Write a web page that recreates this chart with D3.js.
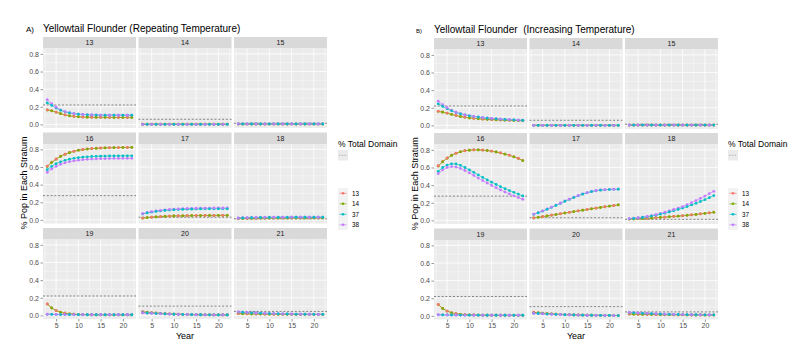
<!DOCTYPE html>
<html><head><meta charset="utf-8">
<script src="https://cdn.jsdelivr.net/npm/d3@7"></script>
<style>body{margin:0;background:#fff}svg{display:block;font-family:"Liberation Sans",Arial,sans-serif}</style>
</head><body><svg id="c" width="812" height="347"></svg>
<script>
// ---------- DATA ----------
const years = [3,4,5,6,7,8,9,10,11,12,13,14,15,16,17,18,19,20,21,22];
const facets = ["13","14","15","16","17","18","19","20","21"];
const seriesNames = ["13","14","37","38"];
const seriesColors = ["#F8766D","#7CAE00","#00BFC4","#C77CFF"];
const yTicks = [0,0.2,0.4,0.6,0.8];
const xTicks = [5,10,15,20];
const totalDomain = [0.22,0.058,0.013,0.275,0.03,0.012,0.22,0.105,0.045];

// Panel A (Repeating Temperature): each facet = [s13, s14, s37, s38]
const repA_13 = [
 [0.165,0.155,0.140,0.122,0.108,0.098,0.091,0.087,0.084,0.082,0.081,0.080,0.080,0.080,0.079,0.079,0.079,0.079,0.079,0.079],
 [0.163,0.154,0.139,0.121,0.107,0.097,0.090,0.086,0.083,0.081,0.080,0.079,0.079,0.079,0.078,0.078,0.078,0.078,0.078,0.078],
 [0.245,0.215,0.185,0.160,0.142,0.130,0.121,0.115,0.111,0.109,0.107,0.106,0.105,0.105,0.105,0.105,0.105,0.105,0.105,0.105],
 [0.280,0.235,0.195,0.165,0.145,0.132,0.123,0.117,0.113,0.110,0.108,0.107,0.106,0.106,0.105,0.105,0.105,0.105,0.105,0.105]];
const repA_14 = [
 [0.002,0.002,0.002,0.002,0.002,0.002,0.002,0.002,0.002,0.002,0.002,0.002,0.002,0.002,0.002,0.002,0.002,0.002,0.002,0.002],
 [0.002,0.002,0.002,0.002,0.002,0.002,0.002,0.002,0.002,0.002,0.002,0.002,0.002,0.002,0.002,0.002,0.002,0.002,0.002,0.002],
 [0.001,0.001,0.001,0.001,0.001,0.001,0.001,0.001,0.001,0.001,0.001,0.001,0.001,0.001,0.001,0.001,0.001,0.001,0.001,0.001],
 [0.001,0.001,0.001,0.001,0.001,0.001,0.001,0.001,0.001,0.001,0.001,0.001,0.001,0.001,0.001,0.001,0.001,0.001,0.001,0.001]];
const repA_15 = [
 [0.004,0.004,0.004,0.004,0.004,0.004,0.004,0.004,0.004,0.004,0.004,0.004,0.004,0.004,0.004,0.004,0.004,0.004,0.004,0.004],
 [0.004,0.004,0.004,0.004,0.004,0.004,0.004,0.004,0.004,0.004,0.004,0.004,0.004,0.004,0.004,0.004,0.004,0.004,0.004,0.004],
 [0.005,0.005,0.005,0.005,0.005,0.005,0.005,0.005,0.005,0.005,0.005,0.005,0.005,0.005,0.005,0.005,0.005,0.005,0.005,0.005],
 [0.005,0.005,0.005,0.005,0.005,0.005,0.005,0.005,0.005,0.005,0.005,0.005,0.005,0.005,0.005,0.005,0.005,0.005,0.005,0.005]];
const repA_16 = [
 [0.610,0.655,0.692,0.722,0.746,0.765,0.780,0.791,0.799,0.805,0.810,0.813,0.816,0.818,0.819,0.820,0.821,0.822,0.822,0.823],
 [0.605,0.650,0.688,0.719,0.743,0.762,0.777,0.789,0.797,0.803,0.808,0.811,0.814,0.816,0.818,0.819,0.820,0.821,0.821,0.822],
 [0.570,0.608,0.637,0.659,0.676,0.689,0.699,0.706,0.712,0.716,0.719,0.721,0.723,0.724,0.725,0.726,0.726,0.727,0.727,0.727],
 [0.540,0.578,0.608,0.630,0.647,0.660,0.670,0.677,0.683,0.687,0.690,0.692,0.694,0.695,0.696,0.697,0.697,0.698,0.698,0.698]];
const repA_17 = [
 [0.020,0.026,0.031,0.035,0.038,0.041,0.043,0.045,0.046,0.047,0.048,0.049,0.050,0.050,0.051,0.051,0.051,0.052,0.052,0.052],
 [0.019,0.025,0.030,0.034,0.037,0.040,0.042,0.044,0.045,0.046,0.047,0.048,0.049,0.049,0.050,0.050,0.050,0.051,0.051,0.051],
 [0.068,0.079,0.088,0.096,0.102,0.107,0.111,0.114,0.117,0.119,0.121,0.122,0.123,0.124,0.125,0.125,0.126,0.126,0.126,0.126],
 [0.072,0.084,0.094,0.102,0.109,0.114,0.119,0.122,0.125,0.128,0.130,0.131,0.132,0.133,0.134,0.134,0.135,0.135,0.135,0.135]];
const repA_18 = [
 [0.015,0.016,0.017,0.018,0.018,0.019,0.019,0.020,0.020,0.020,0.021,0.021,0.021,0.021,0.022,0.022,0.022,0.022,0.022,0.022],
 [0.015,0.016,0.017,0.017,0.018,0.019,0.019,0.019,0.020,0.020,0.020,0.021,0.021,0.021,0.021,0.021,0.022,0.022,0.022,0.022],
 [0.020,0.022,0.023,0.025,0.026,0.027,0.027,0.028,0.028,0.029,0.029,0.029,0.030,0.030,0.030,0.030,0.030,0.030,0.030,0.030],
 [0.022,0.024,0.025,0.027,0.028,0.029,0.029,0.030,0.030,0.031,0.031,0.031,0.032,0.032,0.032,0.032,0.032,0.032,0.032,0.032]];
const repA_19 = [
 [0.130,0.085,0.055,0.036,0.024,0.017,0.013,0.010,0.009,0.008,0.007,0.007,0.007,0.006,0.006,0.006,0.006,0.006,0.006,0.006],
 [0.128,0.084,0.054,0.035,0.024,0.017,0.013,0.010,0.009,0.008,0.007,0.007,0.006,0.006,0.006,0.006,0.006,0.006,0.006,0.006],
 [0.012,0.011,0.010,0.009,0.009,0.008,0.008,0.008,0.007,0.007,0.007,0.007,0.007,0.007,0.007,0.007,0.007,0.007,0.007,0.007],
 [0.013,0.012,0.011,0.010,0.009,0.009,0.008,0.008,0.008,0.007,0.007,0.007,0.007,0.007,0.007,0.007,0.007,0.007,0.007,0.007]];
const repA_20 = [
 [0.042,0.036,0.031,0.027,0.023,0.020,0.017,0.015,0.013,0.011,0.010,0.009,0.008,0.007,0.006,0.006,0.005,0.005,0.005,0.005],
 [0.040,0.035,0.030,0.026,0.022,0.019,0.017,0.014,0.013,0.011,0.010,0.009,0.008,0.007,0.006,0.006,0.005,0.005,0.005,0.005],
 [0.030,0.027,0.024,0.021,0.019,0.017,0.015,0.013,0.012,0.010,0.009,0.008,0.007,0.007,0.006,0.006,0.005,0.005,0.005,0.005],
 [0.028,0.025,0.023,0.020,0.018,0.016,0.014,0.013,0.011,0.010,0.009,0.008,0.007,0.007,0.006,0.006,0.005,0.005,0.005,0.005]];
const repA_21 = [
 [0.020,0.019,0.018,0.017,0.016,0.015,0.014,0.014,0.013,0.013,0.012,0.012,0.012,0.011,0.011,0.011,0.011,0.010,0.010,0.010],
 [0.019,0.018,0.017,0.016,0.016,0.015,0.014,0.013,0.013,0.012,0.012,0.012,0.011,0.011,0.011,0.011,0.010,0.010,0.010,0.010],
 [0.038,0.035,0.032,0.029,0.027,0.025,0.023,0.021,0.020,0.018,0.017,0.016,0.015,0.014,0.014,0.013,0.013,0.012,0.012,0.012],
 [0.040,0.037,0.034,0.031,0.028,0.026,0.024,0.022,0.020,0.019,0.018,0.017,0.016,0.015,0.014,0.014,0.013,0.013,0.012,0.012]];

// Panel B (Increasing Temperature)
const incB_13 = [
 [0.160,0.152,0.140,0.126,0.113,0.102,0.093,0.086,0.080,0.076,0.072,0.069,0.066,0.064,0.062,0.060,0.058,0.056,0.055,0.054],
 [0.158,0.150,0.138,0.124,0.111,0.100,0.091,0.084,0.079,0.075,0.071,0.068,0.065,0.063,0.061,0.059,0.057,0.056,0.054,0.053],
 [0.245,0.215,0.188,0.165,0.146,0.131,0.119,0.109,0.101,0.094,0.088,0.083,0.079,0.075,0.071,0.068,0.065,0.062,0.059,0.057],
 [0.275,0.235,0.200,0.172,0.150,0.133,0.120,0.110,0.102,0.095,0.089,0.084,0.080,0.076,0.072,0.069,0.066,0.063,0.060,0.058]];
const incB_14 = [
 [0.001,0.001,0.001,0.001,0.001,0.001,0.001,0.001,0.001,0.001,0.001,0.001,0.001,0.001,0.001,0.001,0.001,0.001,0.001,0.001],
 [0.001,0.001,0.001,0.001,0.001,0.001,0.001,0.001,0.001,0.001,0.001,0.001,0.001,0.001,0.001,0.001,0.001,0.001,0.001,0.001],
 [0.001,0.001,0.001,0.001,0.001,0.001,0.001,0.001,0.001,0.001,0.001,0.001,0.001,0.001,0.001,0.001,0.001,0.001,0.001,0.001],
 [0.001,0.001,0.001,0.001,0.001,0.001,0.001,0.001,0.001,0.001,0.001,0.001,0.001,0.001,0.001,0.001,0.001,0.001,0.001,0.001]];
const incB_15 = [
 [0.003,0.003,0.003,0.003,0.003,0.003,0.003,0.003,0.003,0.003,0.003,0.003,0.003,0.003,0.003,0.003,0.003,0.003,0.003,0.003],
 [0.003,0.003,0.003,0.003,0.003,0.003,0.003,0.003,0.003,0.003,0.003,0.003,0.003,0.003,0.003,0.003,0.003,0.003,0.003,0.003],
 [0.003,0.003,0.003,0.003,0.003,0.003,0.003,0.003,0.003,0.003,0.003,0.003,0.003,0.003,0.003,0.003,0.003,0.003,0.003,0.003],
 [0.003,0.003,0.003,0.003,0.003,0.003,0.003,0.003,0.003,0.003,0.003,0.003,0.003,0.003,0.003,0.003,0.003,0.003,0.003,0.003]];
const incB_16 = [
 [0.620,0.668,0.708,0.740,0.763,0.780,0.791,0.797,0.800,0.800,0.798,0.793,0.786,0.777,0.766,0.752,0.740,0.722,0.705,0.680],
 [0.615,0.664,0.705,0.737,0.761,0.778,0.790,0.796,0.799,0.799,0.797,0.792,0.785,0.776,0.765,0.751,0.738,0.720,0.702,0.677],
 [0.555,0.600,0.628,0.642,0.640,0.625,0.600,0.572,0.545,0.515,0.488,0.460,0.433,0.408,0.383,0.360,0.338,0.318,0.298,0.278],
 [0.530,0.572,0.600,0.610,0.605,0.590,0.566,0.538,0.510,0.480,0.452,0.424,0.397,0.371,0.346,0.322,0.300,0.279,0.259,0.240]];
const incB_17 = [
 [0.028,0.036,0.043,0.051,0.059,0.067,0.076,0.084,0.092,0.100,0.108,0.116,0.124,0.132,0.140,0.147,0.155,0.162,0.169,0.176],
 [0.027,0.035,0.042,0.050,0.058,0.066,0.075,0.083,0.091,0.099,0.107,0.115,0.123,0.131,0.139,0.146,0.154,0.161,0.168,0.175],
 [0.068,0.085,0.104,0.125,0.147,0.170,0.193,0.216,0.238,0.259,0.279,0.297,0.313,0.326,0.336,0.343,0.347,0.350,0.352,0.353],
 [0.072,0.089,0.108,0.129,0.151,0.174,0.197,0.220,0.242,0.263,0.283,0.301,0.316,0.329,0.339,0.345,0.349,0.352,0.354,0.355]];
const incB_18 = [
 [0.015,0.017,0.019,0.021,0.024,0.027,0.030,0.033,0.037,0.041,0.045,0.049,0.053,0.058,0.063,0.068,0.074,0.080,0.086,0.093],
 [0.015,0.016,0.018,0.021,0.023,0.026,0.029,0.033,0.036,0.040,0.044,0.048,0.052,0.057,0.062,0.067,0.073,0.079,0.085,0.091],
 [0.018,0.022,0.027,0.033,0.040,0.049,0.059,0.070,0.082,0.095,0.109,0.124,0.140,0.157,0.175,0.194,0.214,0.235,0.258,0.282],
 [0.020,0.024,0.030,0.037,0.045,0.055,0.066,0.079,0.093,0.108,0.124,0.140,0.157,0.178,0.201,0.225,0.250,0.276,0.303,0.330]];
const incB_19 = [
 [0.130,0.085,0.055,0.036,0.025,0.018,0.014,0.011,0.010,0.009,0.008,0.008,0.007,0.007,0.007,0.007,0.006,0.006,0.006,0.006],
 [0.128,0.084,0.054,0.035,0.024,0.018,0.014,0.011,0.010,0.009,0.008,0.007,0.007,0.007,0.007,0.006,0.006,0.006,0.006,0.006],
 [0.012,0.011,0.010,0.010,0.009,0.009,0.008,0.008,0.008,0.008,0.007,0.007,0.007,0.007,0.007,0.007,0.007,0.007,0.007,0.007],
 [0.013,0.012,0.011,0.010,0.010,0.009,0.009,0.008,0.008,0.008,0.007,0.007,0.007,0.007,0.007,0.007,0.007,0.007,0.007,0.007]];
const incB_20 = [
 [0.042,0.036,0.031,0.027,0.023,0.020,0.017,0.015,0.013,0.011,0.010,0.009,0.008,0.007,0.006,0.006,0.005,0.005,0.005,0.004],
 [0.040,0.035,0.030,0.026,0.022,0.019,0.017,0.014,0.013,0.011,0.010,0.009,0.008,0.007,0.006,0.006,0.005,0.005,0.004,0.004],
 [0.030,0.027,0.024,0.021,0.019,0.017,0.015,0.013,0.012,0.010,0.009,0.008,0.007,0.007,0.006,0.005,0.005,0.005,0.004,0.004],
 [0.028,0.025,0.023,0.020,0.018,0.016,0.014,0.013,0.011,0.010,0.009,0.008,0.007,0.006,0.006,0.005,0.005,0.004,0.004,0.004]];
const incB_21 = [
 [0.020,0.019,0.018,0.017,0.016,0.015,0.014,0.013,0.013,0.012,0.012,0.011,0.011,0.011,0.010,0.010,0.010,0.010,0.009,0.009],
 [0.019,0.018,0.017,0.016,0.015,0.015,0.014,0.013,0.012,0.012,0.011,0.011,0.011,0.010,0.010,0.010,0.010,0.009,0.009,0.009],
 [0.038,0.035,0.032,0.029,0.027,0.025,0.023,0.021,0.019,0.018,0.017,0.016,0.015,0.014,0.013,0.013,0.012,0.012,0.011,0.011],
 [0.040,0.037,0.034,0.031,0.028,0.026,0.024,0.022,0.020,0.019,0.017,0.016,0.015,0.014,0.014,0.013,0.012,0.012,0.011,0.011]];

const dataA = [repA_13,repA_14,repA_15,repA_16,repA_17,repA_18,repA_19,repA_20,repA_21];
const dataB = [incB_13,incB_14,incB_15,incB_16,incB_17,incB_18,incB_19,incB_20,incB_21];

// ---------- DRAW ----------
const svg = d3.select("#c");

function drawChart(cfg){
  const colW = 93, colPitch = 95.5, stripH = 11.5, panelH = 79.5;
  const rowTops = cfg.rowTops;
  const x = d3.scaleLinear().domain([2.05,22.95]).range([0,colW]);
  const y = d3.scaleLinear().domain([-0.041,0.861]).range([panelH,0]);
  const color = d3.scaleOrdinal().domain(seriesNames).range(seriesColors);
  const root = svg.append("g");

  facets.forEach((f,i)=>{
    const c = i%3, r = Math.floor(i/3);
    const gx = cfg.x0 + c*colPitch, gy = rowTops[r];
    const g = root.append("g").attr("transform",`translate(${gx},${gy})`);
    g.append("rect").attr("width",colW).attr("height",stripH).attr("fill","#D9D9D9");
    g.append("text").attr("x",colW/2).attr("y",stripH/2+2.5).attr("text-anchor","middle")
      .attr("font-size",7).attr("fill","#1A1A1A").text(f);
    const p = g.append("g").attr("transform",`translate(0,${stripH})`);
    p.append("rect").attr("width",colW).attr("height",panelH).attr("fill","#EBEBEB");
    [0.1,0.3,0.5,0.7].forEach(v=>p.append("line").attr("x1",0).attr("x2",colW).attr("y1",y(v)).attr("y2",y(v)).attr("stroke","#fff").attr("stroke-width",0.4));
    [2.5,7.5,12.5,17.5,22.5].forEach(v=>p.append("line").attr("y1",0).attr("y2",panelH).attr("x1",x(v)).attr("x2",x(v)).attr("stroke","#fff").attr("stroke-width",0.4));
    yTicks.forEach(v=>p.append("line").attr("x1",0).attr("x2",colW).attr("y1",y(v)).attr("y2",y(v)).attr("stroke","#fff").attr("stroke-width",0.8));
    xTicks.forEach(v=>p.append("line").attr("y1",0).attr("y2",panelH).attr("x1",x(v)).attr("x2",x(v)).attr("stroke","#fff").attr("stroke-width",0.8));
    p.append("line").attr("x1",0).attr("x2",colW).attr("y1",y(totalDomain[i])).attr("y2",y(totalDomain[i]))
      .attr("stroke","#3a3a3a").attr("stroke-width",0.6).attr("stroke-dasharray","2,1.8");
    const fd = cfg.data[i];
    const line = d3.line().x((d,k)=>x(years[k])).y(d=>y(d));
    fd.forEach((s,si)=>{
      p.append("path").attr("d",line(s)).attr("fill","none").attr("stroke",color(seriesNames[si])).attr("stroke-width",0.7);
    });
    years.forEach((yr,k)=>{
      const order = k%2===0 ? [1,0,2,3] : [0,1,3,2];
      order.forEach(si=>{
        p.append("circle").attr("cx",x(yr)).attr("cy",y(fd[si][k])).attr("r",1.4).attr("fill",color(seriesNames[si]));
      });
    });
    if(c===0){
      const ax = p.append("g").call(d3.axisLeft(y).tickValues(yTicks).tickFormat(d3.format(".1f")).tickSize(2.5).tickPadding(1.5));
      ax.select(".domain").remove();
      ax.selectAll("line").attr("stroke","#333").attr("stroke-width",0.5);
      ax.selectAll("text").attr("font-size",7).attr("fill","#4D4D4D").attr("font-family",null);
    }
    if(r===2){
      const ax = p.append("g").attr("transform",`translate(0,${panelH})`).call(d3.axisBottom(x).tickValues(xTicks).tickSize(2.5).tickPadding(1.5));
      ax.select(".domain").remove();
      ax.selectAll("line").attr("stroke","#333").attr("stroke-width",0.5);
      ax.selectAll("text").attr("font-size",7).attr("fill","#4D4D4D").attr("font-family",null);
    }
  });

  const midX = cfg.x0 + (colPitch*2+colW)/2;
  root.append("text").attr("x",midX).attr("y",339).attr("text-anchor","middle").attr("font-size",9).attr("fill","#000").text("Year");
  const midY = (rowTops[0] + rowTops[2]+stripH+panelH)/2 + 5;
  root.append("text").attr("transform",`translate(${cfg.yTitleX},${midY}) rotate(-90)`).attr("text-anchor","middle")
    .attr("font-size",9).attr("fill","#000").text("% Pop in Each Stratum");

  root.append("text").attr("x",cfg.tagX).attr("y",cfg.titleY).attr("font-size",cfg.tagSize).attr("fill","#000").text(cfg.tag);
  root.append("text").attr("x",cfg.x0).attr("y",cfg.titleY+0.5).attr("font-size",10).attr("fill","#000").attr("xml:space","preserve").text(cfg.title);

  const lx = cfg.legendX;
  root.append("text").attr("x",lx).attr("y",147).attr("font-size",8.5).attr("fill","#000").text("% Total Domain");
  root.append("rect").attr("x",lx).attr("y",150).attr("width",10).attr("height",10.5).attr("fill","#EBEBEB");
  root.append("line").attr("x1",lx+1).attr("x2",lx+9).attr("y1",155.3).attr("y2",155.3).attr("stroke","#8a8a8a").attr("stroke-width",0.6).attr("stroke-dasharray","1.5,1.3");
  root.append("rect").attr("x",lx).attr("y",188).attr("width",10).attr("height",42).attr("fill","#F2F2F2");
  seriesNames.forEach((s,i)=>{
    const ky = 193.3 + i*10.5;
    root.append("line").attr("x1",lx+1.5).attr("x2",lx+8.5).attr("y1",ky).attr("y2",ky).attr("stroke",color(s)).attr("stroke-width",0.7);
    root.append("circle").attr("cx",lx+5).attr("cy",ky).attr("r",1.3).attr("fill",color(s));
    root.append("text").attr("x",lx+14).attr("y",ky+2.2).attr("font-size",6.3).attr("fill","#000").text(s);
  });
}

drawChart({x0:43, rowTops:[37,132.5,228], data:dataA, title:"Yellowtail Flounder (Repeating Temperature)",
  tag:"A)", tagX:26, tagSize:8, titleY:31.5, yTitleX:27, legendX:338});
drawChart({x0:434, rowTops:[38,133,228.5], data:dataB, title:"Yellowtail Flounder  (Increasing Temperature)",
  tag:"B)", tagX:416, tagSize:6, titleY:32.5, yTitleX:418, legendX:728});
</script>
</body></html>
